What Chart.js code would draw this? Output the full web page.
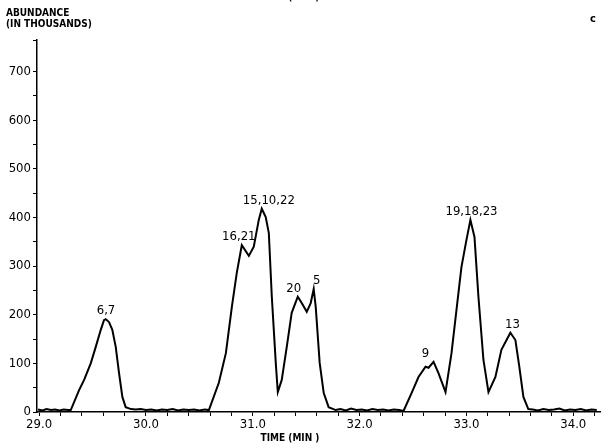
<!DOCTYPE html>
<html>
<head>
<meta charset="utf-8">
<script src="https://cdn.jsdelivr.net/npm/chart.js@4.4.1/dist/chart.umd.min.js"></script>
<style>
  html, body { margin: 0; padding: 0; background: #fff; }
  #wrap { width: 604px; height: 443px; position: relative; }
</style>
</head>
<body>
<div id="wrap"><canvas id="chart" width="604" height="443"></canvas></div>
<script>
// retention time (min) and abundance (thousands)
var times = [
  28.99, 29.03, 29.07, 29.11, 29.15, 29.19, 29.23, 29.27,
  29.296, 29.374, 29.421, 29.483, 29.530, 29.577, 29.607, 29.623, 29.654, 29.685, 29.717, 29.748, 29.779, 29.810, 29.86, 29.904,
  29.95, 30.00, 30.05, 30.10, 30.15, 30.20, 30.25, 30.30, 30.35, 30.40, 30.45, 30.50, 30.55,
  30.589, 30.682, 30.748, 30.804, 30.850, 30.897, 30.963, 31.009, 31.056, 31.084, 31.121, 31.150, 31.178, 31.215, 31.234,
  31.271, 31.318, 31.364, 31.421, 31.458, 31.505, 31.542, 31.570, 31.589, 31.626, 31.664, 31.710, 31.776,
  31.82, 31.87, 31.92, 31.97, 32.02, 32.07, 32.12, 32.17, 32.22, 32.27, 32.32, 32.37,
  32.411, 32.486, 32.551, 32.617, 32.645, 32.692, 32.738, 32.804, 32.860, 32.925, 32.953, 33.000, 33.037, 33.075, 33.112,
  33.159, 33.206, 33.271, 33.327, 33.411, 33.458, 33.495, 33.533, 33.579,
  33.62, 33.67, 33.72, 33.77, 33.82, 33.87, 33.92, 33.97, 34.02, 34.07, 34.12, 34.17, 34.22
];
var abundance = [
  5, 3, 6, 4, 5, 3, 5, 4,
  4, 45, 66, 100, 134, 169, 189, 191, 185, 169, 134, 80, 31, 10, 6, 5,
  6, 4, 5, 3, 5, 4, 6, 3, 5, 4, 5, 3, 5,
  4, 60, 121, 216, 286, 343, 321, 340, 395, 418, 401, 368, 237, 101, 41,
  66, 134, 204, 237, 224, 206, 224, 253, 216, 101, 39, 10, 4,
  6, 3, 7, 4, 5, 3, 6, 4, 5, 3, 5, 4,
  2, 39, 72, 93, 91, 103, 80, 41, 121, 245, 298, 354, 395, 360, 237,
  107, 41, 72, 128, 163, 148, 93, 31, 6,
  5, 3, 6, 4, 5, 7, 3, 5, 4, 6, 3, 5, 4
];

var peakLabels = ['6,7', '16,21', '15,10,22', '20', '5', '9', '19,18,23', '13'];
var peakTimes = [29.626, 30.869, 31.150, 31.383, 31.598, 32.617, 33.047, 33.430];
var peakValues = [191, 343, 418, 237, 253, 103, 395, 163];

var xTickStep = 0.2;
var yTickStep = 50;

var FONT = "'DejaVu Sans Condensed', 'Liberation Sans Narrow', 'DejaVu Sans', sans-serif";

var textPlugin = {
  id: 'texts',
  afterDraw: function(chart) {
    var ctx = chart.ctx;
    var xs = chart.scales.x, ys = chart.scales.y;
    ctx.save();
    ctx.fillStyle = '#000';
    ctx.textAlign = 'center';
    ctx.textBaseline = 'bottom';
    ctx.font = '13px ' + FONT;
    for (var i = 0; i < peakLabels.length; i++) {
      ctx.fillText(peakLabels[i], xs.getPixelForValue(peakTimes[i]), ys.getPixelForValue(peakValues[i]) - 2);
    }
    // axis titles and corner texts
    ctx.font = 'bold 10px ' + FONT;
    ctx.textAlign = 'left';
    ctx.textBaseline = 'alphabetic';
    ctx.fillText('ABUNDANCE', 6, 16);
    ctx.fillText('(IN THOUSANDS)', 6, 27);
    ctx.textAlign = 'center';
    ctx.fillText('TIME (MIN )', 290, 441);
    ctx.fillText('TIME (MIN )', 290, 0);
    ctx.font = 'bold 11px ' + FONT;
    ctx.fillText('c', 593, 22);
    ctx.restore();
  }
};

new Chart('chart', {
  type: 'line',
  data: {
    datasets: [{
      data: times.map(function(t, i) { return { x: t, y: abundance[i] }; }),
      borderColor: '#000',
      borderWidth: 2,
      pointRadius: 0,
      tension: 0,
      fill: false
    }]
  },
  options: {
    responsive: false,
    animation: false,
    layout: { padding: { left: 0, top: 40, right: 4, bottom: 0 } },
    plugins: { legend: { display: false }, tooltip: { enabled: false } },
    scales: {
      x: {
        type: 'linear',
        min: 28.98,
        max: 34.25,
        afterFit: function(s) { s.height = 31; },
        afterBuildTicks: function(s) {
          var t = [];
          for (var v = 29.0; v <= 34.21; v += xTickStep) t.push({ value: Math.round(v * 10) / 10 });
          s.ticks = t;
        },
        ticks: {
          autoSkip: false,
          maxRotation: 0,
          padding: 1,
          color: '#000',
          font: { family: FONT, size: 13 },
          callback: function(v) { return Math.abs(v - Math.round(v)) < 0.01 ? v.toFixed(1) : ''; }
        },
        grid: { drawOnChartArea: false, color: '#000', tickLength: 4, tickWidth: 1 },
        border: { color: '#000', width: 1.5 }
      },
      y: {
        min: 0,
        max: 765,
        afterFit: function(s) { s.width = 37; },
        ticks: {
          stepSize: yTickStep,
          autoSkip: false,
          padding: 2,
          color: '#000',
          font: { family: FONT, size: 13 },
          callback: function(v) { return v % 100 === 0 ? v : ''; }
        },
        grid: { drawOnChartArea: false, color: '#000', tickLength: 4, tickWidth: 1 },
        border: { color: '#000', width: 1.5 }
      }
    }
  },
  plugins: [textPlugin]
});
</script>
</body>
</html>
